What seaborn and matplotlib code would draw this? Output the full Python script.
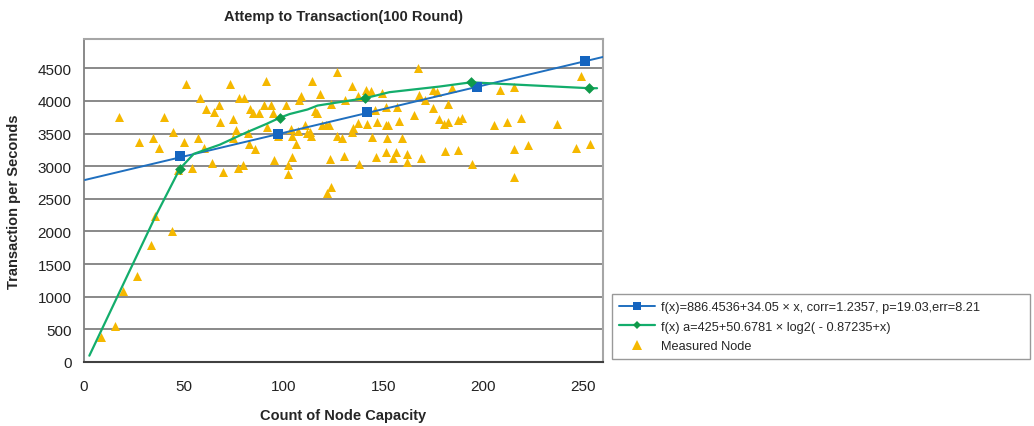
import numpy as np
import pandas as pd
import matplotlib.pyplot as plt
import seaborn as sns
from matplotlib.lines import Line2D

sns.set_style("white")
plt.rcParams['font.family'] = ['Liberation Sans', 'DejaVu Sans']

# measured nodes
node_x = [8.5, 15.5, 19.4, 26.4, 33.4, 35.6, 43.9,
          17.7, 27.6, 34.7, 37.6, 40.2, 44.7, 51.1, 50.1, 54.3, 47.3, 57.0, 58.1, 60.1, 61.0,
          64.3, 65.1, 67.8, 68.0, 69.8, 73.3, 74.8, 76.0, 74.8, 77.0, 77.7, 80.3, 79.8, 82.0,
          82.8, 83.2, 84.5, 85.7, 87.7, 90.2, 91.0, 91.8, 93.8, 94.8, 95.3, 97.3, 101.2, 102.4,
          102.4, 103.7, 104.0, 104.4, 106.0, 107.4, 107.9, 108.7, 110.7, 111.6, 113.2, 113.7,
          114.1, 115.7, 116.9, 118.2, 119.1, 121.1, 122.9, 123.2, 121.6, 123.7, 123.5, 126.6,
          126.6, 129.1, 130.4, 130.8, 134.4, 134.1, 134.9, 137.1, 137.1, 137.8,
          141.3, 143.8, 141.6, 144.1, 146.3, 146.6, 149.1, 145.8, 151.1, 152.1, 151.3, 151.3,
          152.0, 154.6, 156.1, 156.6, 158.0, 159.5, 161.7, 161.7, 165.3, 167.5, 168.0, 168.8,
          170.8, 175.0, 177.0, 175.0, 177.9, 180.5, 182.2, 182.2, 184.2, 180.9, 187.2, 187.5,
          189.2, 194.2, 205.6, 208.4, 211.8, 215.4, 215.6, 215.6, 218.8, 222.3, 236.8, 246.5,
          249.0, 253.5]
node_y = [377, 546, 1094, 1314, 1794, 2244, 2004,
          3752, 3379, 3436, 3282, 3752, 3522, 4258, 3379, 2969, 2944, 3430, 4044, 3277, 3880,
          3052, 3829, 3946, 3676, 2909, 4258, 3727, 3563, 3436, 2969, 4044, 4044, 3025, 3512,
          3344, 3880, 3819, 3267, 3819, 3946, 4314, 3609, 3946, 3819, 3089, 3471, 3946, 3025,
          2883, 3574, 3456, 3140, 3344, 3533, 4018, 4074, 3625, 3507, 3522, 3471,
          4314, 3844, 3819, 4110, 3635, 3635, 3635, 3104, 2592, 2689, 3957, 4443,
          3461, 3430, 3164, 4018, 4228, 3522, 3584, 4074, 3666, 3036,
          4161, 4146, 3650, 3446, 3139, 3676, 4126, 3855, 3635, 3635, 3906, 3225,
          3436, 3129, 3216, 3906, 3701, 3430, 3190, 3063, 3788, 4503, 4095, 3129,
          4018, 4161, 4135, 3890, 3727, 3650, 3676, 3957, 4196, 3230, 3252, 3712,
          3737, 3036, 3635, 4172, 3676, 3267, 4222, 2842, 3737, 3318, 3650, 3282,
          4376, 3344]

# linear fit line and its square markers
lin_line_x = [0.5, 260]
lin_line_y = [2790, 4675]
lin_mark_x = [48, 97, 142, 197, 251]
lin_mark_y = [3150, 3500, 3830, 4210, 4615]

# log fit curve and its diamond markers
log_x = [2.7, 36, 48, 55, 68, 81.5, 91.5, 98, 103, 112, 117, 138, 141, 153, 178, 194, 208, 253, 257]
log_y = [97, 2244, 2960, 3190, 3330, 3520, 3650, 3742, 3800, 3870, 3930, 4030, 4044, 4135, 4221,
         4287, 4264, 4196, 4196]
log_mark_x = [48, 98, 141, 194, 253]
log_mark_y = [2960, 3742, 4044, 4287, 4196]

yticks = [0, 500, 1000, 1500, 2000, 2500, 3000, 3500, 4000, 4500]
xticks = [0, 50, 100, 150, 200, 250]

blue = '#1f6fbf'
blue_mk = '#1565c0'
green = '#13ad6c'
green_mk = '#0f9a4a'
gold = '#f5b800'

fig = plt.figure(figsize=(10.34, 4.27), dpi=100)
ax = fig.add_axes([0.0812, 0.1499, 0.502, 0.7564])

sns.scatterplot(x=node_x, y=node_y, marker='^', s=42, color=gold, linewidth=0, ax=ax, zorder=3)
sns.lineplot(x=lin_line_x, y=lin_line_y, color=blue, lw=1.4, ax=ax, zorder=4)
sns.scatterplot(x=lin_mark_x, y=lin_mark_y, marker='s', s=55, color=blue_mk, linewidth=0, ax=ax, zorder=5)
sns.lineplot(x=log_x, y=log_y, color=green, lw=1.6, ax=ax, zorder=4)
sns.scatterplot(x=log_mark_x, y=log_mark_y, marker='D', s=30, color=green_mk, linewidth=0, ax=ax, zorder=5)

ax.set_xlim(0, 260)
ax.set_ylim(0, 4950)
ax.set_xticks(xticks)
ax.set_yticks(yticks)
ax.tick_params(axis='both', labelsize=11, direction='out', length=4, width=1, color='#555555',
               labelcolor='#222222')
ax.tick_params(axis='x', pad=8)
ax.tick_params(axis='y', pad=5)
ax.set_axisbelow(True)
ax.yaxis.grid(True, color='#808080', lw=1.3)
ax.xaxis.grid(False)

for side in ['top', 'right']:
    ax.spines[side].set_color('#a6a6a6')
    ax.spines[side].set_linewidth(1.5)
ax.spines['left'].set_color('#808080')
ax.spines['left'].set_linewidth(1.3)
ax.spines['bottom'].set_color('#404040')
ax.spines['bottom'].set_linewidth(1.5)

ax.set_title('Attemp to Transaction(100 Round)', fontsize=10.5, fontweight='bold', pad=14)
ax.set_xlabel('Count of Node Capacity', fontsize=10.5, fontweight='bold', labelpad=11)
ax.set_ylabel('Transaction per Seconds', fontsize=10.5, fontweight='bold', labelpad=12)

handles = [
    Line2D([], [], color=blue, lw=1.4, marker='s', markersize=6, markerfacecolor=blue_mk, markeredgewidth=0),
    Line2D([], [], color=green, lw=1.6, marker='D', markersize=4.5, markerfacecolor=green_mk, markeredgewidth=0),
    Line2D([], [], color=gold, lw=0, marker='^', markersize=7, markeredgewidth=0),
]
labels = [
    'f(x)=886.4536+34.05 × x, corr=1.2357, p=19.03,err=8.21',
    'f(x) a=425+50.6781 × log2( - 0.87235+x)',
    'Measured Node',
]
leg = fig.legend(handles, labels, loc='upper left', bbox_to_anchor=(0.592, 0.152, 0.404, 0.157),
                 mode='expand', fontsize=9.2, frameon=True, fancybox=False, borderaxespad=0,
                 handlelength=2.8, handletextpad=0.5, labelspacing=0.6, borderpad=0.55)
leg.get_frame().set_edgecolor('#808080')
leg.get_frame().set_linewidth(1.0)

fig.savefig('out.png', dpi=100)
